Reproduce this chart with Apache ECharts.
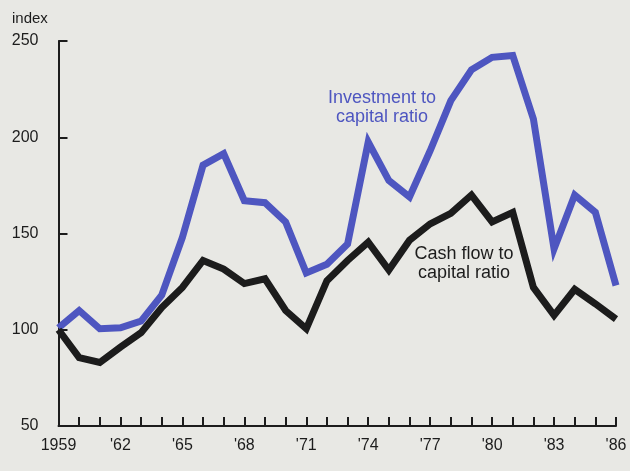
<!DOCTYPE html>
<html>
<head>
<meta charset="utf-8">
<script src="https://cdn.jsdelivr.net/npm/echarts@6/dist/echarts.min.js"></script>
<style>
  html, body { margin: 0; padding: 0; background: #e8e8e4; }
  #chart { width: 630px; height: 471px; }
</style>
</head>
<body>
<div id="chart"></div>
<script>
// Years on the horizontal axis
const years = [1959, 1960, 1961, 1962, 1963, 1964, 1965, 1966, 1967, 1968,
  1969, 1970, 1971, 1972, 1973, 1974, 1975, 1976, 1977, 1978,
  1979, 1980, 1981, 1982, 1983, 1984, 1985, 1986];

// Index values, 1959 = 100
const investmentToCapital = [101, 110, 100.5, 101, 104.5, 118, 148, 185.5, 191.5, 167,
  166, 156, 129.5, 134, 144.5, 197.5, 177.5, 169, 193, 219,
  235, 241.5, 242.5, 209.5, 142, 170, 161, 123];
const cashFlowToCapital = [100, 85.5, 83, 91, 98.5, 111.5, 122, 136, 131.5, 124,
  126.5, 110, 100.5, 125.5, 136, 145.5, 131, 146.5, 155, 160.5,
  170, 156, 161, 122, 107.5, 121, 113.5, 105.5];

// Vertical axis ticks
const yTicks = [50, 100, 150, 200, 250];

const font = "'Liberation Sans', Arial, Helvetica, sans-serif";
const ink = '#1c1c1c';
const blue = '#4e56c0';

const chart = echarts.init(document.getElementById('chart'), null, { renderer: 'canvas' });

chart.setOption({
  backgroundColor: '#e8e8e4',
  animation: false,
  grid: { left: 58.5, right: 14, top: 41, bottom: 45, containLabel: false },
  xAxis: {
    type: 'category',
    data: years.map(String),
    boundaryGap: false,
    axisLine: { show: true, lineStyle: { color: ink, width: 2 } },
    axisTick: { show: true, inside: true, length: 9, interval: 0, lineStyle: { color: ink, width: 2 } },
    axisLabel: {
      interval: 2,
      margin: 12,
      color: ink,
      fontFamily: font,
      fontSize: 16,
      formatter: (v, i) => (i === 0 ? v : "'" + v.slice(2))
    },
    splitLine: { show: false }
  },
  yAxis: {
    type: 'value',
    min: yTicks[0],
    max: yTicks[yTicks.length - 1],
    interval: 50,
    axisLine: { show: true, lineStyle: { color: ink, width: 2 } },
    axisTick: { show: true, inside: true, length: 9, lineStyle: { color: ink, width: 2 } },
    axisLabel: { margin: 20, color: ink, fontFamily: font, fontSize: 16 },
    splitLine: { show: false }
  },
  series: [
    {
      name: 'Investment to capital ratio',
      type: 'line',
      data: investmentToCapital,
      symbol: 'none',
      lineStyle: { color: blue, width: 7, join: 'miter' },
      z: 3
    },
    {
      name: 'Cash flow to capital ratio',
      type: 'line',
      data: cashFlowToCapital,
      symbol: 'none',
      lineStyle: { color: ink, width: 7, join: 'miter' },
      z: 4
    }
  ],
  graphic: [
    {
      type: 'text', left: 12, top: 11,
      style: { text: 'index', font: '15px ' + font, fill: ink }
    },
    {
      type: 'text', x: 382, y: 108,
      style: {
        text: 'Investment to\ncapital ratio',
        font: '18px ' + font, fill: blue,
        align: 'center', verticalAlign: 'middle', lineHeight: 19
      }
    },
    {
      type: 'text', x: 464, y: 264,
      style: {
        text: 'Cash flow to\ncapital ratio',
        font: '18px ' + font, fill: ink,
        align: 'center', verticalAlign: 'middle', lineHeight: 19
      }
    }
  ]
});
</script>
</body>
</html>
